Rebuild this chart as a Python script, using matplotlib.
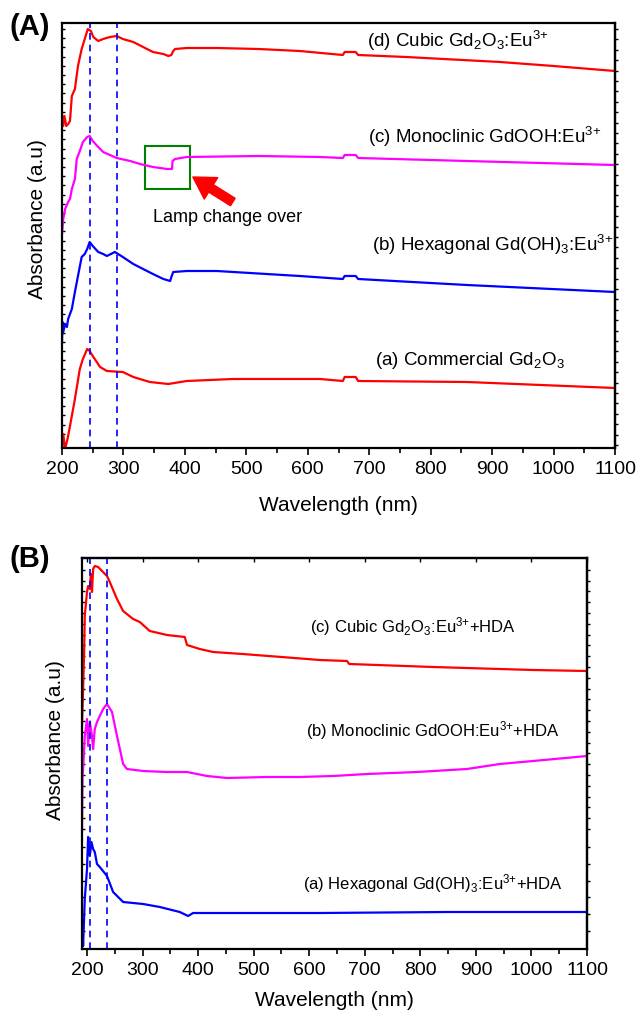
import numpy as np
import matplotlib.pyplot as plt
from matplotlib.patches import Rectangle
from matplotlib.ticker import MultipleLocator, FixedLocator, NullFormatter

plt.rcParams['font.family'] = ['Liberation Sans', 'DejaVu Sans']
plt.rcParams['mathtext.fontset'] = 'custom'
plt.rcParams['mathtext.rm'] = 'Liberation Sans'
plt.rcParams['mathtext.it'] = 'Liberation Sans:italic'
plt.rcParams['mathtext.bf'] = 'Liberation Sans:bold'

# ---- (A) absorbance, arbitrary units, curves stacked ----
wl_A_d = [200, 202, 204, 207, 210, 213, 216, 221, 226, 232, 237, 242, 247, 251, 259, 267, 278, 289,
          299, 316, 332, 348, 365, 373, 378, 381, 384, 403, 452, 520, 587, 657, 660, 678, 682, 760,
          913, 1000, 1100]
abs_A_d = [334, 322, 332, 322, 324, 327, 352, 359, 382, 399, 409, 419, 417, 411, 407, 409, 411, 412,
           409, 406, 401, 396, 394, 392, 393, 397, 399, 400, 400, 399, 397, 393, 396, 396, 393, 391,
           386, 382, 377]

wl_A_c = [200, 202, 205, 210, 213, 216, 221, 224, 229, 234, 241, 245, 250, 259, 267, 289, 311, 327,
          348, 371, 379, 380, 384, 403, 520, 620, 657, 660, 678, 682, 859, 1100]
abs_A_c = [214, 229, 239, 246, 249, 259, 269, 289, 297, 306, 311, 312, 307, 301, 296, 290, 287, 284,
           281, 279, 279, 287, 289, 291, 292, 291, 290, 293, 293, 290, 287, 283]

wl_A_b = [200, 201, 202, 205, 208, 210, 216, 221, 226, 232, 237, 241, 245, 250, 259, 267, 273, 286,
          299, 316, 332, 348, 365, 376, 378, 381, 403, 452, 587, 657, 660, 678, 682, 859, 1100]
abs_A_b = [106, 126, 116, 124, 121, 129, 139, 156, 172, 191, 194, 199, 206, 202, 196, 194, 192, 196,
           191, 184, 179, 174, 169, 167, 171, 176, 177, 177, 172, 169, 172, 172, 169, 163, 156]

wl_A_a = [200, 202, 205, 209, 213, 221, 229, 234, 241, 245, 250, 262, 273, 299, 316, 343, 373, 403,
          478, 620, 657, 660, 678, 682, 859, 1100]
abs_A_a = [-1, 14, -1, 9, 22, 49, 79, 89, 99, 97, 92, 81, 77, 76, 71, 66, 64, 67, 69, 69, 67, 71, 71,
           67, 66, 60]

labels_A = [r'(d) Cubic Gd$_2$O$_3$:Eu$^{3{+}}$',
            r'(c) Monoclinic GdOOH:Eu$^{3{+}}$',
            r'(b) Hexagonal Gd(OH)$_3$:Eu$^{3{+}}$',
            r'(a) Commercial Gd$_2$O$_3$']
peaks_A = [245, 290]

# ---- (B) HDA capped samples ----
wl_B_c = [191, 193, 195, 196, 200, 202, 205, 207, 209, 211, 214, 220, 227, 236, 241, 254, 265, 283,
          295, 313, 344, 376, 380, 403, 427, 480, 550, 619, 668, 672, 823, 1003, 1100]
abs_B_c = [223, 260, 300, 333, 357, 363, 360, 375, 357, 380, 383, 382, 378, 373, 367, 350, 338, 330,
           327, 318, 314, 312, 304, 300, 297, 295, 292, 289, 288, 285, 282, 279, 278]

wl_B_b = [191, 192, 193, 196, 200, 202, 205, 209, 211, 214, 218, 223, 229, 236, 245, 254, 265, 272,
          301, 344, 380, 416, 452, 524, 583, 643, 704, 794, 884, 943, 1003, 1100]
abs_B_b = [117, 173, 180, 213, 230, 203, 227, 213, 200, 220, 227, 233, 240, 245, 237, 213, 185, 180,
           178, 177, 177, 173, 171, 172, 172, 173, 175, 177, 180, 185, 188, 193]

wl_B_a = [191, 192, 193, 196, 200, 202, 205, 208, 211, 214, 218, 223, 236, 247, 265, 301, 331, 367,
          382, 391, 619, 850, 1100]
abs_B_a = [0, 17, 3, 50, 80, 112, 93, 107, 100, 97, 85, 82, 73, 57, 47, 45, 42, 37, 33, 36, 36, 37, 37]

labels_B = [r'(c) Cubic Gd$_2$O$_3$:Eu$^{3{+}}$+HDA',
            r'(b) Monoclinic GdOOH:Eu$^{3{+}}$+HDA',
            r'(a) Hexagonal Gd(OH)$_3$:Eu$^{3{+}}$+HDA']
peaks_B = [205, 236]

fig = plt.figure(figsize=(6.38, 10.12), dpi=100)
axA = fig.add_axes([62 / 638, 1 - 449 / 1012, 553 / 638, 425 / 1012])
axB = fig.add_axes([82 / 638, 1 - 950 / 1012, 505 / 638, 391 / 1012])


def style_axes(ax, xlim, ylim, left_ticks, right_ticks, top_ticks, xlab_y, ylab_x, ylab_y):
    ax.set_xlim(*xlim)
    ax.set_ylim(*ylim)
    for sp in ax.spines.values():
        sp.set_linewidth(1.6)
    ax.xaxis.set_major_locator(MultipleLocator(100))
    ax.xaxis.set_minor_locator(MultipleLocator(50))
    ax.tick_params(axis='x', which='major', direction='out', length=5, width=1.2,
                   labelsize=14, pad=4, top=False)
    ax.tick_params(axis='x', which='minor', direction='out', length=3.5, width=1.2, top=False)
    ax.yaxis.set_major_locator(FixedLocator(left_ticks))
    ax.yaxis.set_major_formatter(NullFormatter())
    ax.tick_params(axis='y', which='major', direction='in', length=2, width=1.0, right=False)
    sec = ax.secondary_yaxis('right')
    sec.yaxis.set_major_locator(FixedLocator(right_ticks))
    sec.yaxis.set_major_formatter(NullFormatter())
    sec.tick_params(direction='out', length=2, width=1.0)
    sec.spines['right'].set_linewidth(1.6)
    if top_ticks:
        sect = ax.secondary_xaxis('top')
        sect.xaxis.set_major_locator(MultipleLocator(100))
        sect.xaxis.set_major_formatter(NullFormatter())
        sect.tick_params(direction='in', length=3, width=1.0)
        sect.spines['top'].set_linewidth(1.6)
    ax.set_xlabel('Wavelength (nm)', fontsize=15)
    ax.xaxis.set_label_coords(0.5, xlab_y)
    ax.xaxis.label.set_verticalalignment('center')
    ax.set_ylabel('Absorbance (a.u)', fontsize=15)
    ax.yaxis.set_label_coords(ylab_x, ylab_y)
    ax.yaxis.label.set_verticalalignment('center')


# panel A
for wl, ab, c in [(wl_A_d, abs_A_d, '#ff0000'), (wl_A_c, abs_A_c, '#ff00ff'),
                  (wl_A_b, abs_A_b, '#0000ff'), (wl_A_a, abs_A_a, '#ff0000')]:
    axA.plot(wl, ab, color=c, lw=1.6, solid_joinstyle='round')
for p in peaks_A:
    axA.axvline(p, color='#0000ff', lw=1.2, ls=(0, (4, 3)))
for lab, (x, y) in zip(labels_A, [(696, 402), (698, 306), (705, 198), (710, 84)]):
    axA.text(x, y, lab, fontsize=13.5, va='baseline', ha='left')

axA.add_patch(Rectangle((335, 259), 73, 43, fill=False, edgecolor='#008000', lw=1.5))
axA.annotate('', xy=(413, 271), xytext=(478, 246),
             arrowprops=dict(arrowstyle='simple,head_width=1.3,head_length=1.1,tail_width=0.45',
                             color='#ff0000', mutation_scale=14, shrinkA=0, shrinkB=0))
axA.text(470, 232, 'Lamp change over', fontsize=13, ha='center', va='center')

style_axes(axA, (200, 1100), (0, 425), np.arange(5, 425, 9.2), np.arange(3, 425, 10.4),
           False, -0.132, -0.045, 0.541)

# panel B
for wl, ab, c in [(wl_B_c, abs_B_c, '#ff0000'), (wl_B_b, abs_B_b, '#ff00ff'),
                  (wl_B_a, abs_B_a, '#0000ff')]:
    axB.plot(wl, ab, color=c, lw=1.6, solid_joinstyle='round')
for p in peaks_B:
    axB.axvline(p, color='#0000ff', lw=1.2, ls=(0, (4, 3)))
for lab, (x, y) in zip(labels_B, [(601, 318), (594, 214), (589, 61)]):
    axB.text(x, y, lab, fontsize=12, va='baseline', ha='left')

b_ticks = np.concatenate([np.arange(18, 110, 16.8), np.arange(120, 385, 10.8)])
style_axes(axB, (191, 1100), (0, 391), b_ticks, b_ticks, True, -0.128, -0.053, 0.537)

fig.text(10 / 638, 1 - 35 / 1012, '(A)', fontsize=21, fontweight='bold', va='baseline')
fig.text(10 / 638, 1 - 567 / 1012, '(B)', fontsize=21, fontweight='bold', va='baseline')

fig.savefig('out.png', dpi=100)
